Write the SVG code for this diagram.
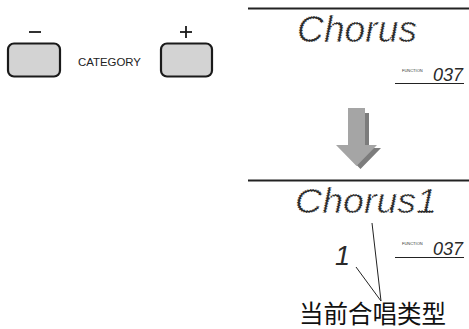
<svg xmlns="http://www.w3.org/2000/svg" width="469" height="329" viewBox="0 0 469 329">
<style>
.btn{fill:#d3d3d3;stroke:#1a1a1a;stroke-width:2.2}
.sign{stroke:#1a1a1a;stroke-width:1.8;fill:none}
.lcd{font-family:"Liberation Sans",Arial,sans-serif;font-style:italic;fill:#2a2a2a}
.dot{stroke:#fff;stroke-width:1.1;stroke-dasharray:1.4 1.1}
.fn{font-family:"Liberation Sans",Arial,sans-serif;font-size:4px;fill:#333}
.rule{stroke:#222;stroke-width:2}
.ul{stroke:#222;stroke-width:1.2}
.call{stroke:#222;stroke-width:1;fill:none}
</style>
<rect width="469" height="329" fill="#fff"/>
<g id="minus-button">
<line class="sign" x1="29" y1="32" x2="41" y2="32"/>
<rect class="btn" x="8" y="43.5" width="52" height="33" rx="6"/>
</g>
<g id="category-label">
<text x="78" y="65.5" font-family="Liberation Sans,Arial,sans-serif" font-size="10.5" fill="#222" textLength="63" lengthAdjust="spacingAndGlyphs">CATEGORY</text>
</g>
<g id="plus-button">
<line class="sign" x1="180" y1="32" x2="192" y2="32"/>
<line class="sign" x1="186" y1="26" x2="186" y2="38"/>
<rect class="btn" x="161" y="43.5" width="51" height="33" rx="6"/>
</g>
<g id="display-top">
<line class="rule" x1="248" y1="8.5" x2="469" y2="8.5"/>
<text class="lcd dot" x="297" y="42" font-size="37" textLength="120" lengthAdjust="spacingAndGlyphs">Chorus</text>
<text class="fn" x="402" y="71.5">FUNCTION</text>
<text class="lcd" x="433" y="81" font-size="18" textLength="30" lengthAdjust="spacingAndGlyphs">037</text>
<line class="ul" x1="395" y1="83.5" x2="464" y2="83.5"/>
</g>
<g id="arrow">
<polygon fill="#7c7c7c" transform="translate(4,3)" points="348,110 365,110 365,145 377,145 356.5,166 336,145 348,145"/>
<polygon fill="#a5a5a5" points="348,108 365,108 365,145 377,145 356.5,166 336,145 348,145"/>
</g>
<g id="display-bottom">
<line class="rule" x1="248" y1="180.5" x2="469" y2="180.5"/>
<text class="lcd dot" x="295" y="213" font-size="35" textLength="142" lengthAdjust="spacingAndGlyphs">Chorus1</text>
<text class="lcd" x="335" y="265" font-size="27">1</text>
<text class="fn" x="402" y="244.5">FUNCTION</text>
<text class="lcd" x="433" y="255" font-size="18" textLength="30" lengthAdjust="spacingAndGlyphs">037</text>
<line class="ul" x1="395" y1="257.5" x2="464" y2="257.5"/>
</g>
<g id="connectors">
<line class="call" x1="372" y1="223" x2="381" y2="301"/>
<line class="call" x1="356" y1="267" x2="381" y2="301"/>
</g>
<g id="label-current-chorus">
<text x="299" y="323" font-family="Noto Sans CJK SC,sans-serif" font-size="24.5" fill="#111">当前合唱类型</text>
</g>
</svg>
